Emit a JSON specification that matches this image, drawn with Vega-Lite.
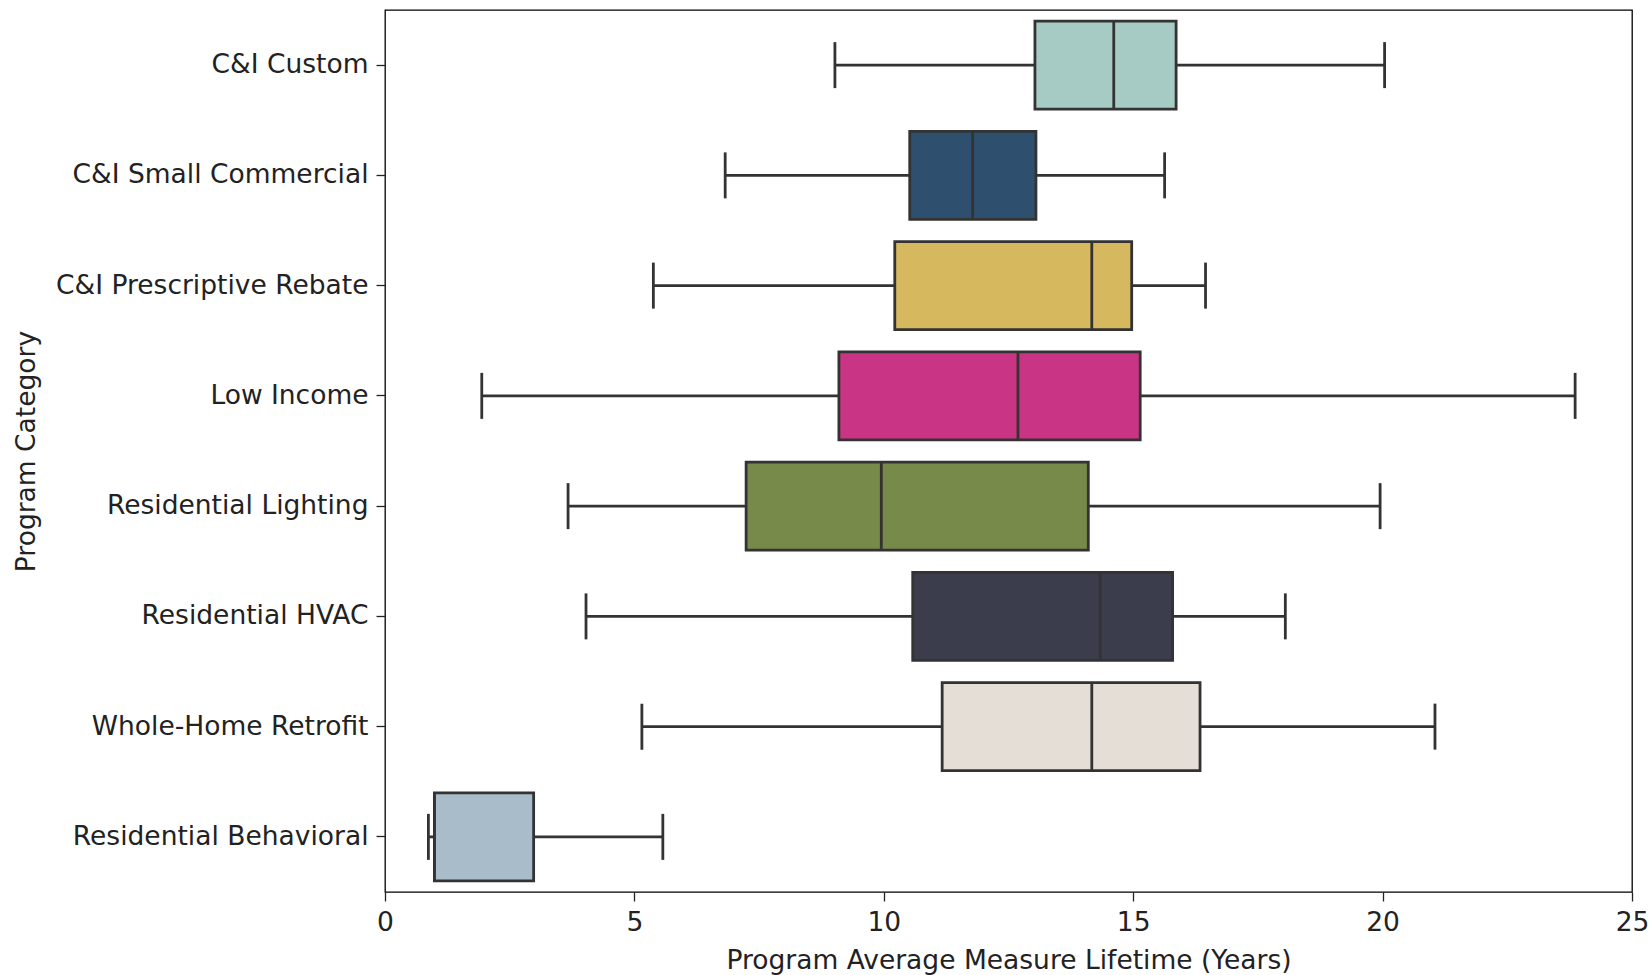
{
  "$schema": "https://vega.github.io/schema/vega-lite/v6.json",
  "width": 1247,
  "height": 882,
  "autosize": {"type": "none"},
  "padding": {"left": 385, "top": 10, "right": 19, "bottom": 83},
  "background": "white",
  "config": {
    "view": {"stroke": "#000000", "strokeWidth": 1.3},
    "font": "DejaVu Sans",
    "axis": {
      "labelFont": "DejaVu Sans",
      "titleFont": "DejaVu Sans",
      "labelFontSize": 26.5,
      "titleFontSize": 26.5,
      "labelColor": "#222222",
      "titleColor": "#222222",
      "titleFontWeight": "normal",
      "tickColor": "#222222",
      "tickSize": 9,
      "tickWidth": 1.3,
      "labelPadding": 8,
      "labelLimit": 400,
      "labelFlush": false,
      "domain": false,
      "grid": false
    }
  },
  "data": {
    "values": [
      {"category": "C&I Custom", "low": 9.02, "q1": 13.03, "median": 14.61, "q3": 15.86, "high": 20.04},
      {"category": "C&I Small Commercial", "low": 6.82, "q1": 10.52, "median": 11.78, "q3": 13.05, "high": 15.63},
      {"category": "C&I Prescriptive Rebate", "low": 5.38, "q1": 10.22, "median": 14.17, "q3": 14.97, "high": 16.45},
      {"category": "Low Income", "low": 1.94, "q1": 9.1, "median": 12.69, "q3": 15.14, "high": 23.86},
      {"category": "Residential Lighting", "low": 3.67, "q1": 7.24, "median": 9.95, "q3": 14.1, "high": 19.95},
      {"category": "Residential HVAC", "low": 4.03, "q1": 10.58, "median": 14.34, "q3": 15.79, "high": 18.05},
      {"category": "Whole-Home Retrofit", "low": 5.15, "q1": 11.17, "median": 14.17, "q3": 16.34, "high": 21.05},
      {"category": "Residential Behavioral", "low": 0.87, "q1": 0.99, "median": 0.99, "q3": 2.98, "high": 5.57}
    ]
  },
  "encoding": {
    "y": {
      "field": "category",
      "type": "nominal",
      "sort": ["C&I Custom", "C&I Small Commercial", "C&I Prescriptive Rebate", "Low Income", "Residential Lighting", "Residential HVAC", "Whole-Home Retrofit", "Residential Behavioral"],
      "scale": {"paddingInner": 0, "paddingOuter": 0},
      "axis": {"title": "Program Category", "titleX": -359, "titleY": 441, "titleAngle": -90, "titleAlign": "center", "titleBaseline": "middle"}
    }
  },
  "layer": [
    {
      "mark": {"type": "rule", "color": "#333333", "strokeWidth": 2.8},
      "encoding": {
        "x": {"field": "low", "type": "quantitative", "scale": {"domain": [0, 25], "nice": false}, "axis": {"title": "Program Average Measure Lifetime (Years)", "values": [0, 5, 10, 15, 20, 25], "titlePadding": 12}},
        "x2": {"field": "q1"}
      }
    },
    {
      "mark": {"type": "rule", "color": "#333333", "strokeWidth": 2.8},
      "encoding": {
        "x": {"field": "q3", "type": "quantitative"},
        "x2": {"field": "high"}
      }
    },
    {
      "mark": {"type": "tick", "color": "#333333", "thickness": 2.8, "size": 46, "opacity": 1},
      "encoding": {"x": {"field": "low", "type": "quantitative"}}
    },
    {
      "mark": {"type": "tick", "color": "#333333", "thickness": 2.8, "size": 46, "opacity": 1},
      "encoding": {"x": {"field": "high", "type": "quantitative"}}
    },
    {
      "mark": {"type": "bar", "size": 88, "stroke": "#333333", "strokeWidth": 2.8, "opacity": 1},
      "encoding": {
        "x": {"field": "q1", "type": "quantitative"},
        "x2": {"field": "q3"},
        "color": {
          "field": "category",
          "type": "nominal",
          "legend": null,
          "scale": {
            "domain": ["C&I Custom", "C&I Small Commercial", "C&I Prescriptive Rebate", "Low Income", "Residential Lighting", "Residential HVAC", "Whole-Home Retrofit", "Residential Behavioral"],
            "range": ["#a6cbc4", "#2e4f6e", "#d6b95f", "#c93584", "#778a49", "#3b3d4c", "#e5ded7", "#a9bcc9"]
          }
        }
      }
    },
    {
      "mark": {"type": "tick", "color": "#333333", "thickness": 2.8, "size": 88, "opacity": 1},
      "encoding": {"x": {"field": "median", "type": "quantitative"}}
    }
  ]
}
